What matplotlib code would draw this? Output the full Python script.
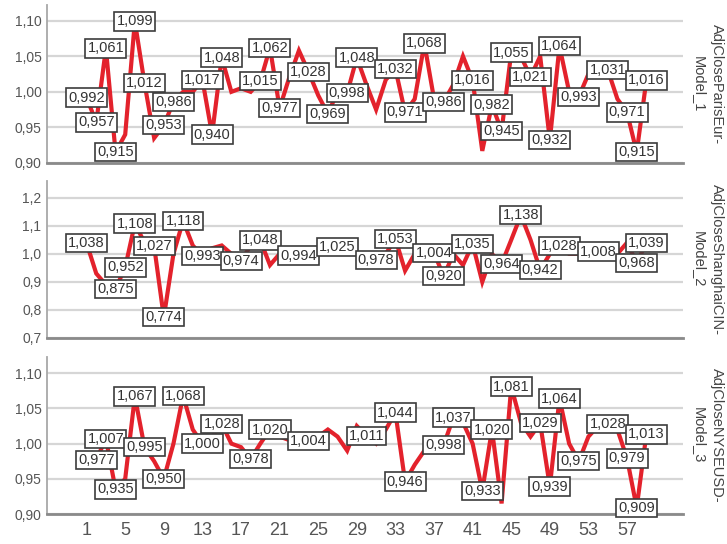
import matplotlib
matplotlib.use('Agg')
import matplotlib.pyplot as plt
from matplotlib.ticker import FuncFormatter

plt.rcParams['font.family'] = ['Liberation Sans', 'DejaVu Sans']

PERIODS = list(range(1, 60))

PARIS = [
    0.992, 0.957, 1.061, 0.915, 0.940, 1.099, 1.012, 0.935, 0.953, 0.986,
    1.000, 1.000, 1.017, 0.940, 1.048, 1.000, 1.005, 1.000, 1.015, 1.062,
    0.977, 1.020, 1.058, 1.028, 0.995, 0.969, 1.000, 0.998, 1.048, 1.010,
    0.975, 1.017, 1.032, 0.971, 0.990, 1.068, 0.990, 0.986, 1.010, 1.050,
    1.016, 0.917, 0.982, 0.945, 1.055, 1.050, 1.021, 1.050, 0.932, 1.064,
    1.000, 0.993, 1.025, 1.030, 1.031, 0.990, 0.971, 0.915, 1.016,
]
PARIS_LABELLED = [1, 2, 3, 4, 6, 7, 9, 10, 13, 14, 15, 19, 20, 21, 24, 26, 28,
                  29, 33, 34, 36, 38, 41, 43, 44, 45, 47, 49, 50, 52, 55, 57,
                  58, 59]

SHANGHAI = [
    1.038, 0.930, 0.890, 0.875, 0.952, 1.108, 1.040, 1.027, 0.774, 1.000,
    1.118, 1.030, 0.993, 1.020, 1.030, 1.000, 0.974, 1.030, 1.048, 0.960,
    1.000, 1.000, 0.994, 1.000, 1.000, 1.000, 1.025, 1.000, 1.000, 1.000,
    0.978, 1.000, 1.053, 0.940, 1.000, 1.000, 1.004, 0.920, 1.000, 0.960,
    1.035, 0.900, 1.000, 0.964, 1.050, 1.138, 1.050, 0.942, 1.000, 1.028,
    1.000, 1.000, 1.000, 1.008, 1.000, 1.000, 1.040, 0.968, 1.039,
]
SHANGHAI_LABELLED = [1, 4, 5, 6, 8, 9, 11, 13, 17, 19, 23, 27, 31, 33, 37, 38,
                     41, 44, 46, 48, 50, 54, 58, 59]

NYSE = [
    0.985, 0.977, 1.007, 0.935, 0.950, 1.067, 0.995, 0.975, 0.950, 1.000,
    1.068, 1.020, 1.000, 1.010, 1.028, 1.000, 0.995, 0.978, 1.000, 1.020,
    1.010, 1.005, 1.004, 1.004, 1.010, 1.020, 1.010, 0.990, 1.025, 1.011,
    1.000, 1.020, 1.044, 0.946, 0.970, 0.990, 1.000, 0.998, 1.037, 1.030,
    1.000, 0.933, 1.020, 0.915, 1.081, 1.030, 1.010, 1.029, 0.939, 1.064,
    1.000, 0.975, 1.010, 1.025, 1.028, 1.020, 0.979, 0.909, 1.013,
]
NYSE_LABELLED = [2, 3, 4, 6, 7, 9, 11, 13, 15, 18, 20, 24, 30, 33, 34, 38, 39,
                 42, 43, 45, 48, 49, 50, 52, 55, 57, 58, 59]

TITLES = ['AdjCloseParisEur-\nModel_1',
          'AdjCloseShanghaiCIN-\nModel_2',
          'AdjCloseNYSEUSD-\nModel_3']
YTICKS = [
    [0.90, 0.95, 1.00, 1.05, 1.10],
    [0.7, 0.8, 0.9, 1.0, 1.1, 1.2],
    [0.90, 0.95, 1.00, 1.05, 1.10],
]
YDECIMALS = [2, 1, 2]
YLIMS = [(0.90, 1.122), (0.70, 1.26), (0.90, 1.123)]
XTICKS = list(range(1, 58, 4))

RED = '#e3222c'
# axes rectangles in figure fraction: left, bottom, width, height
RECTS = [
    (0.0647, 0.7004, 0.8748, 0.2904),
    (0.0647, 0.3787, 0.8748, 0.2886),
    (0.0647, 0.0551, 0.8748, 0.2886),
]


def comma(v, decimals):
    return f'{v:.{decimals}f}'.replace('.', ',')


def draw_panel(ax, values, labelled, title, yticks, decimals, ylim, bottom):
    ax.plot(PERIODS, values, color=RED, lw=3.0, solid_joinstyle='miter', zorder=2)
    for p in labelled:
        v = values[p - 1]
        ax.text(p, v, comma(v, 3), ha='center', va='center', fontsize=10.5,
                color='#333333', zorder=3,
                bbox=dict(boxstyle='square,pad=0.15', fc='white',
                          ec='#3c3c3c', lw=1.2))

    ax.set_xlim(-3.1, 62.8)
    ax.set_ylim(*ylim)
    ax.set_yticks(yticks)
    ax.yaxis.set_major_formatter(FuncFormatter(lambda v, _: comma(v, decimals)))
    ax.set_xticks(XTICKS)
    ax.tick_params(length=0, colors='#555555')
    ax.tick_params(axis='y', labelsize=10, pad=4)
    ax.tick_params(axis='x', labelsize=13, pad=6, labelbottom=bottom)

    ax.yaxis.grid(True, color='#d6d6d6', lw=1.6)
    ax.set_axisbelow(True)
    for side in ('top', 'right'):
        ax.spines[side].set_visible(False)
    ax.spines['left'].set_color('#a8a8a8')
    ax.spines['left'].set_linewidth(1.3)
    ax.spines['bottom'].set_color('#8a8a8a')
    ax.spines['bottom'].set_linewidth(2)

    ax.text(1.039, 0.5, title, transform=ax.transAxes, rotation=270,
            ha='center', va='center', multialignment='center',
            fontsize=10.5, color='#444444', linespacing=1.3)


def main() -> None:
    fig = plt.figure(figsize=(7.27, 5.44), dpi=100)
    series = [(PARIS, PARIS_LABELLED), (SHANGHAI, SHANGHAI_LABELLED),
              (NYSE, NYSE_LABELLED)]
    for i, (values, labelled) in enumerate(series):
        ax = fig.add_axes(RECTS[i])
        draw_panel(ax, values, labelled, TITLES[i], YTICKS[i], YDECIMALS[i],
                   YLIMS[i], bottom=(i == 2))
    fig.savefig('out.png', dpi=100)


if __name__ == '__main__':
    main()
